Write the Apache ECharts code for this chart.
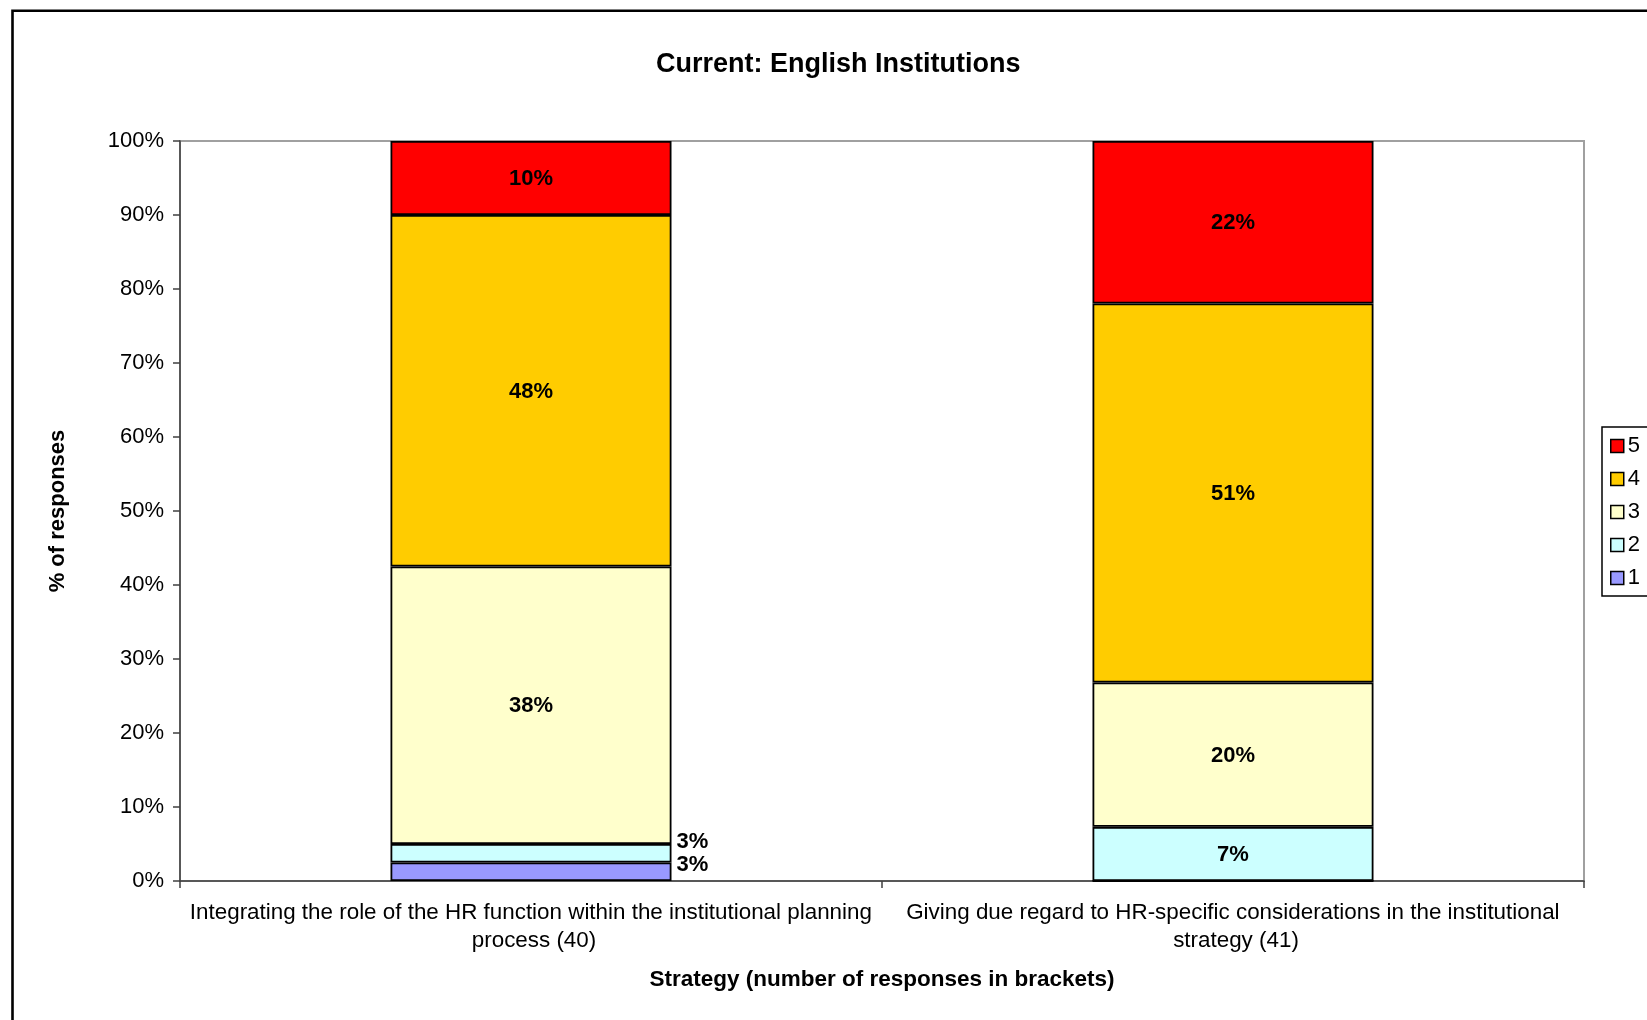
<!DOCTYPE html>
<html>
<head>
<meta charset="utf-8">
<title>Current: English Institutions</title>
<script src="https://cdn.jsdelivr.net/npm/echarts@6/dist/echarts.min.js"></script>
<style>
  html, body { margin: 0; padding: 0; background: #fff; }
  #chart { width: 1647px; height: 1020px; }
</style>
</head>
<body>
<div id="chart"></div>
<script>
// Strategy items (number of responses in brackets)
const categories = [
  'Integrating the role of the HR function within the institutional planning process (40)',
  'Giving due regard to HR-specific considerations in the institutional strategy (41)'
];
// Rating levels, bottom of the stack first
const levels = ['1', '2', '3', '4', '5'];
const levelColors = ['#9999FF', '#CCFFFF', '#FFFFCC', '#FFCC00', '#FF0000'];
// Share of responses (%) per rating level
const level1 = [2.5, 0];
const level2 = [2.5, 7.32];
const level3 = [37.5, 19.51];
const level4 = [47.5, 51.22];
const level5 = [10, 21.95];
const yTicks = [0, 10, 20, 30, 40, 50, 60, 70, 80, 90, 100];

const FONT = '"Liberation Sans", Arial, sans-serif';
const levelValues = [level1, level2, level3, level4, level5];

// Small slices at the bottom of the first bar carry their labels beside the bar
const sideLabelOffsets = { '0-0': [0, -7], '1-0': [0, -11] };

const series = levels.map((name, si) => ({
  name: name,
  type: 'bar',
  stack: 'total',
  barWidth: 281,
  itemStyle: { color: levelColors[si], borderColor: '#000', borderWidth: 1.8 },
  emphasis: { disabled: true },
  data: levelValues[si].map((v, ci) => {
    const item = { value: v };
    const key = si + '-' + ci;
    if (v === 0) {
      item.label = { show: false };
    } else if (sideLabelOffsets[key]) {
      item.label = { position: 'right', distance: 5, offset: sideLabelOffsets[key] };
    }
    return item;
  }),
  label: {
    show: true,
    position: 'inside',
    offset: [0, 1],
    color: '#000',
    fontFamily: FONT,
    fontSize: 22,
    fontWeight: 'bold',
    formatter: p => Math.round(p.value) + '%'
  }
}));

const chart = echarts.init(document.getElementById('chart'), null, { renderer: 'canvas' });
chart.setOption({
  animation: false,
  backgroundColor: '#fff',
  title: {
    text: 'Current: English Institutions',
    left: 656,
    top: 51,
    padding: 0,
    textStyle: { fontFamily: FONT, fontSize: 27, fontWeight: 'bold', color: '#000' }
  },
  legend: {
    data: ['5', '4', '3', '2', '1'],
    orient: 'vertical',
    left: 1602,
    top: 427,
    padding: [8, 12, 7, 8],
    itemWidth: 13,
    itemHeight: 13,
    itemGap: 11,
    icon: 'rect',
    borderColor: '#000',
    borderWidth: 1.5,
    itemStyle: { borderColor: '#000', borderWidth: 1.5 },
    textStyle: { fontFamily: FONT, fontSize: 22, color: '#000', padding: [0, 0, 0, -1] },
    selectedMode: false
  },
  grid: {
    left: 180,
    right: 63,
    top: 141,
    bottom: 139,
    show: true,
    borderColor: '#a0a0a0',
    borderWidth: 2,
    backgroundColor: '#fff'
  },
  xAxis: {
    type: 'category',
    data: categories,
    name: 'Strategy (number of responses in brackets)',
    nameLocation: 'middle',
    nameGap: 87,
    nameTextStyle: { fontFamily: FONT, fontSize: 22.5, fontWeight: 'bold', color: '#000' },
    axisLine: { lineStyle: { color: '#404040', width: 1.5 } },
    axisTick: { show: true, length: 7, lineStyle: { color: '#404040', width: 1.5 } },
    axisLabel: {
      interval: 0,
      margin: 18,
      fontFamily: FONT,
      fontSize: 22.4,
      color: '#000',
      lineHeight: 28,
      width: 700,
      overflow: 'break',
      align: 'center',
      padding: [0, 0, 0, 6]
    },
    splitLine: { show: false }
  },
  yAxis: {
    type: 'value',
    min: yTicks[0],
    max: yTicks[yTicks.length - 1],
    interval: yTicks[1] - yTicks[0],
    name: '% of responses',
    nameLocation: 'middle',
    nameGap: 111,
    nameTextStyle: { fontFamily: FONT, fontSize: 22, fontWeight: 'bold', color: '#000' },
    axisLine: { show: true, lineStyle: { color: '#404040', width: 1.5 } },
    axisTick: { show: true, length: 7, lineStyle: { color: '#404040', width: 1.5 } },
    axisLabel: {
      margin: 16,
      fontFamily: FONT,
      fontSize: 22,
      color: '#000',
      formatter: '{value}%'
    },
    splitLine: { show: false }
  },
  graphic: [{
    type: 'rect',
    silent: true,
    z: 100,
    shape: { x: 12.5, y: 10.7, width: 1700, height: 1100 },
    style: { fill: null, stroke: '#000', lineWidth: 2.6 }
  }],
  series: series
});
</script>
</body>
</html>
